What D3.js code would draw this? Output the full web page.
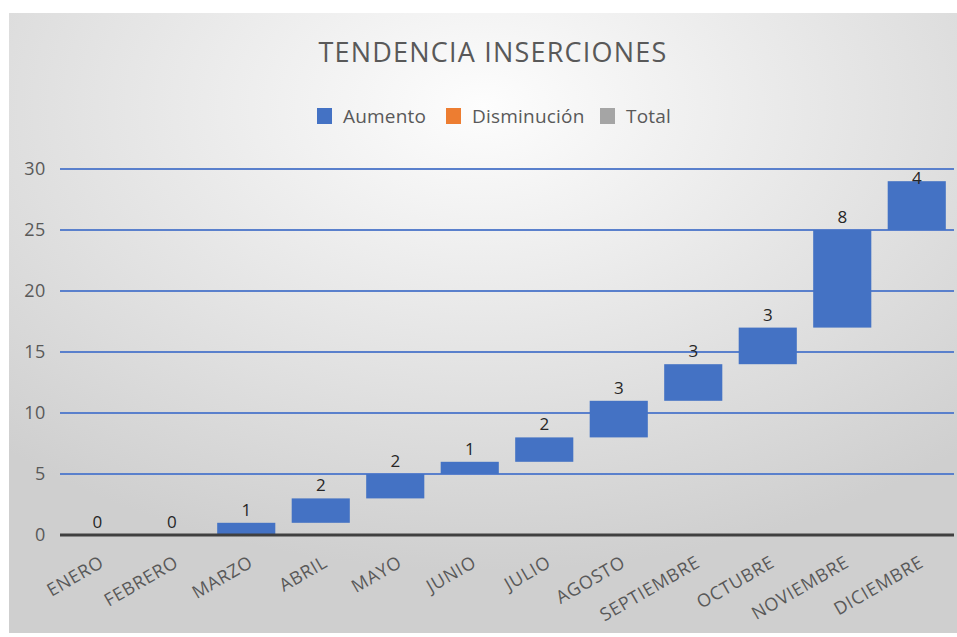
<!DOCTYPE html>
<html>
<head>
<meta charset="utf-8">
<script src="https://cdn.jsdelivr.net/npm/d3@7"></script>
<style>
  body { margin: 0; background: #fff; }
  text { font-family: "Open Sans", "Noto Sans", sans-serif; }
</style>
</head>
<body>
<div id="vis"></div>
<script>
const months = ["ENERO", "FEBRERO", "MARZO", "ABRIL", "MAYO", "JUNIO", "JULIO",
  "AGOSTO", "SEPTIEMBRE", "OCTUBRE", "NOVIEMBRE", "DICIEMBRE"];
const increments = [0, 0, 1, 2, 2, 1, 2, 3, 3, 3, 8, 4];
const yTicks = [0, 5, 10, 15, 20, 25, 30];
const legendItems = ["Aumento", "Disminución", "Total"];
const legendColors = ["#4472C4", "#ED7D31", "#A5A5A5"];

const svgWidth = 957,
  svgHeight = 637,
  plotLeft = 60,
  plotRight = 954,
  plotTop = 169,
  plotBottom = 535;

const svg = d3.select("#vis").append("svg")
  .attr("width", svgWidth)
  .attr("height", svgHeight);

const defs = svg.append("defs");
const bg = defs.append("radialGradient").attr("id", "bg")
  .attr("cx", "50%").attr("cy", "15%").attr("r", "75%");
bg.append("stop").attr("offset", "0").attr("stop-color", "#fdfdfd");
bg.append("stop").attr("offset", "1").attr("stop-color", "#cfcfcf");

svg.append("rect")
  .attr("x", 9).attr("y", 13)
  .attr("width", svgWidth - 9).attr("height", 620)
  .attr("fill", "url(#bg)");

// running totals for the waterfall
let run = 0;
const bars = increments.map((v, i) => {
  const start = run;
  run += v;
  return { month: months[i], v, start, end: run };
});

const x = d3.scaleBand().domain(months).range([plotLeft, plotRight]).paddingInner(0.22).paddingOuter(0.11);
const y = d3.scaleLinear().domain([0, 30]).range([plotBottom, plotTop]);

// gridlines
svg.append("g")
  .selectAll("line")
  .data(yTicks.filter(d => d > 0))
  .join("line")
  .attr("x1", plotLeft).attr("x2", plotRight)
  .attr("y1", d => y(d)).attr("y2", d => y(d))
  .attr("stroke", "#5a80cc")
  .attr("stroke-width", 2);

// y axis labels
const yAxis = svg.append("g")
  .attr("transform", `translate(${plotLeft - 14},0)`)
  .call(d3.axisLeft(y).tickValues(yTicks).tickSize(0).tickPadding(0));
yAxis.select(".domain").remove();
yAxis.selectAll("text")
  .attr("font-size", 18)
  .attr("letter-spacing", 0.6)
  .attr("fill", "#595959")
  .style("font-family", '"Open Sans", sans-serif');

// bars
svg.append("g")
  .selectAll("rect")
  .data(bars.filter(d => d.v > 0))
  .join("rect")
  .attr("x", d => x(d.month))
  .attr("width", x.bandwidth())
  .attr("y", d => y(d.end))
  .attr("height", d => y(d.start) - y(d.end))
  .attr("fill", "#4472C4");

// zero line
svg.append("line")
  .attr("x1", plotLeft).attr("x2", plotRight)
  .attr("y1", y(0)).attr("y2", y(0))
  .attr("stroke", "#404040")
  .attr("stroke-width", 3);

// value labels
svg.append("g")
  .selectAll("text")
  .data(bars)
  .join("text")
  .attr("x", d => x(d.month) + x.bandwidth() / 2)
  .attr("y", d => Math.max(y(d.end) - 13, y(30) + 9))
  .attr("dy", "0.35em")
  .attr("text-anchor", "middle")
  .attr("font-size", 17)
  .attr("fill", "#262626")
  .text(d => d.v);

// x axis labels
const xAxis = svg.append("g")
  .attr("transform", `translate(0,${plotBottom})`)
  .call(d3.axisBottom(x).tickSize(0).tickPadding(0));
xAxis.select(".domain").remove();
xAxis.selectAll("text")
  .attr("font-size", 18)
  .attr("letter-spacing", 0.7)
  .attr("fill", "#595959")
  .style("font-family", '"Open Sans", sans-serif')
  .attr("text-anchor", "end")
  .attr("dy", 0)
  .attr("y", 0)
  .attr("transform", "translate(8,31) rotate(-30)");

// title
svg.append("text")
  .attr("x", 493).attr("y", 62)
  .attr("text-anchor", "middle")
  .attr("font-size", 27)
  .attr("letter-spacing", 1.2)
  .attr("fill", "#595959")
  .text("TENDENCIA INSERCIONES");

// legend
const legend = svg.append("g").attr("transform", "translate(317,116)");
const legendX = [0, 129, 283];
legendItems.forEach((name, i) => {
  const g = legend.append("g").attr("transform", `translate(${legendX[i]},0)`);
  g.append("rect").attr("x", 0).attr("y", -8).attr("width", 15).attr("height", 16)
    .attr("fill", legendColors[i]);
  g.append("text").attr("x", 26).attr("y", 0).attr("dy", "0.35em")
    .attr("font-size", 19).attr("letter-spacing", 0.2)
    .attr("fill", "#595959").text(name);
});
</script>
</body>
</html>
